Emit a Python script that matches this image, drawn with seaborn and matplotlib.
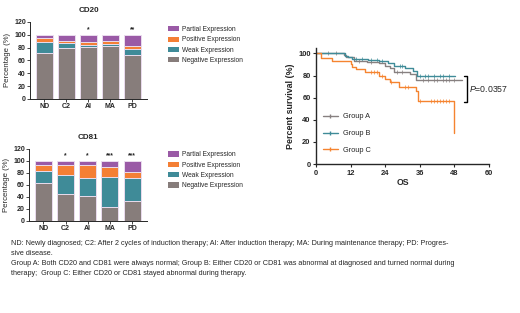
import matplotlib
matplotlib.use("Agg")
import matplotlib.pyplot as plt
from matplotlib.patches import Patch
from matplotlib.lines import Line2D
import numpy as np
import pandas as pd
import seaborn as sns

sns.set_style("ticks")
plt.rcParams["font.family"] = ["Liberation Sans", "DejaVu Sans"]
plt.rcParams["mathtext.fontset"] = "custom"
plt.rcParams["mathtext.it"] = "Liberation Sans:italic"
plt.rcParams["mathtext.rm"] = "Liberation Sans"

# ---- data ----
timepoints = ["ND", "C2", "AI", "MA", "PD"]
layers = ["Negative Expression", "Weak Expression", "Positive Expression", "Partial Expression"]
colors = {"Negative Expression": "#877d7b", "Weak Expression": "#3f8b98",
          "Positive Expression": "#f47f35", "Partial Expression": "#9a5aa6"}

cd20_neg = [71, 80, 81, 83, 68]
cd20_weak = [17, 7, 3, 2, 10]
cd20_pos = [7, 3, 4, 5, 4]
cd20_part = [5, 10, 12, 10, 18]
cd20_sig = ["", "", "*", "", "**"]

cd81_neg = [64, 45, 41, 23, 33]
cd81_weak = [20, 31, 31, 51, 38]
cd81_pos = [10, 17, 22, 16, 11]
cd81_part = [6, 7, 6, 10, 18]
cd81_sig = ["", "*", "*", "***", "***"]

groups = ["Group A", "Group B", "Group C"]
grp_colors = ["#878080", "#3f8b98", "#f58430"]
grpA_t = [0, 9.6, 10.5, 13, 17.7, 22, 24, 25.8, 27, 32.5, 34.6, 50.6]
grpA_s = [100, 99, 97, 93, 92, 91, 89, 87, 83, 81, 76, 76]
grpA_cens = [4, 7, 15, 19, 28, 30, 37, 39, 41, 42, 44, 45, 46, 48]
grpB_t = [0, 10, 11, 12.5, 18, 22, 25, 27, 31, 33.5, 35, 48.2]
grpB_s = [100, 98, 97, 95, 94, 93, 91, 89, 87, 84, 80, 80]
grpB_cens = [14, 16, 19, 21, 23, 29, 30, 36, 38, 39, 41, 43, 44, 46]
grpC_t = [0, 1.7, 5.5, 12, 12.5, 14, 17, 22, 24, 25.5, 28.7, 34.7, 35.3, 47.8]
grpC_s = [100, 96, 93, 90, 88, 86, 83, 80, 77, 74, 70, 66, 57, 28]
grpC_cens = [19, 20, 21, 23, 26, 31, 32, 36, 40, 41, 42, 43, 44, 45, 46]
p_text = "=0.0357"

caption = ("ND: Newly diagnosed; C2: After 2 cycles of induction therapy; AI: After induction therapy; "
           "MA: During maintenance therapy; PD: Progres-\nsive disease.\n"
           "Group A: Both CD20 and CD81 were always normal; Group B: Either CD20 or CD81 was abnormal "
           "at diagnosed and turned normal during\ntherapy;  Group C: Either CD20 or CD81 stayed abnormal during therapy.")

fig = plt.figure(figsize=(5.2, 3.13), dpi=100)


def stacked(ax, title, vals, sig, legend_y):
    df = pd.DataFrame(dict(zip(layers, vals)), index=timepoints)
    cum = df.cumsum(axis=1)
    for lay in layers[::-1]:
        sns.barplot(x=cum.index, y=cum[lay].values, color=colors[lay], ax=ax,
                    width=0.77, edgecolor="#eadcee", linewidth=0.7, saturation=1)
    for i, s in enumerate(sig):
        ax.text(i, cum.iloc[i, -1] + 3, s, ha="center", va="bottom", fontsize=4.8, fontweight="bold")
    ax.set_ylim(0, 120)
    ax.set_yticks(range(0, 121, 20))
    ax.set_xlim(-0.64, 4.68)
    ax.set_ylabel("Percentage (%)", fontsize=5.6, labelpad=2)
    ax.set_xlabel("")
    ax.set_title(title, fontsize=5.8, fontweight="bold", pad=7)
    ax.tick_params(labelsize=5.0, length=2, width=0.6, pad=1)
    for lab in ax.get_xticklabels() + ax.get_yticklabels():
        lab.set_fontweight("bold")
    for sp in ["left", "bottom"]:
        ax.spines[sp].set_linewidth(0.7)
    sns.despine(ax=ax)
    handles = [Patch(facecolor=colors[l], edgecolor="none") for l in layers[::-1]]
    fig.legend(handles, layers[::-1], loc="upper left", bbox_to_anchor=(0.318, legend_y),
               frameon=False, fontsize=4.8, handlelength=1.6, handleheight=0.85,
               handletextpad=0.55, labelspacing=0.5, borderaxespad=0)


ax1 = fig.add_axes([0.058, 0.684, 0.225, 0.246])
stacked(ax1, "CD20", [cd20_neg, cd20_weak, cd20_pos, cd20_part], cd20_sig, 0.925)
ax2 = fig.add_axes([0.056, 0.294, 0.227, 0.230])
stacked(ax2, "CD81", [cd81_neg, cd81_weak, cd81_pos, cd81_part], cd81_sig, 0.525)

# ---- survival ----
ax3 = fig.add_axes([0.608, 0.476, 0.332, 0.371])
km = [(grpA_t, grpA_s, grpA_cens), (grpB_t, grpB_s, grpB_cens), (grpC_t, grpC_s, grpC_cens)]
for g, col, (t, s, cens) in zip(groups, grp_colors, km):
    d = pd.DataFrame({"t": t, "s": s})
    sns.lineplot(data=d, x="t", y="s", ax=ax3, color=col, linewidth=1.0,
                 drawstyle="steps-post", sort=False)
    idx = np.searchsorted(t, cens, side="right") - 1
    cy = np.array(s)[idx]
    sns.scatterplot(x=cens, y=cy, ax=ax3, marker="|", color=col, s=6, linewidth=0.5)
ax3.set_xlim(0, 60)
ax3.set_ylim(0, 105)
ax3.set_xticks(range(0, 61, 12))
ax3.set_yticks(range(0, 101, 20))
ax3.set_xlabel("OS", fontsize=6.3, fontweight="bold", labelpad=1)
ax3.set_ylabel("Percent survival (%)", fontsize=6.4, fontweight="bold", labelpad=2)
ax3.tick_params(labelsize=5.4, length=2.5, width=0.8, pad=1.5)
for lab in ax3.get_xticklabels() + ax3.get_yticklabels():
    lab.set_fontweight("bold")
for sp in ["left", "bottom"]:
    ax3.spines[sp].set_linewidth(1.0)
sns.despine(ax=ax3)
lh = [Line2D([0], [0], color=c, lw=1.0, marker="|", markersize=3) for c in grp_colors]
ax3.legend(lh, groups, loc="lower left", bbox_to_anchor=(0.0, 0.03), frameon=False,
           fontsize=5.3, handlelength=2.0, handletextpad=0.7, labelspacing=1.3)
# bracket for p value
ax3.plot([51.5, 52.5, 52.5, 51.5], [80, 80, 56, 56], color="black", lw=1.0, clip_on=False)
ax3.text(53.0, 68, "$\\it{P}$" + p_text, fontsize=6.3, va="center", ha="left")

fig.text(0.021, 0.232, caption, fontsize=5.2, va="top", ha="left", linespacing=1.55)

fig.savefig("out.png", dpi=100)
